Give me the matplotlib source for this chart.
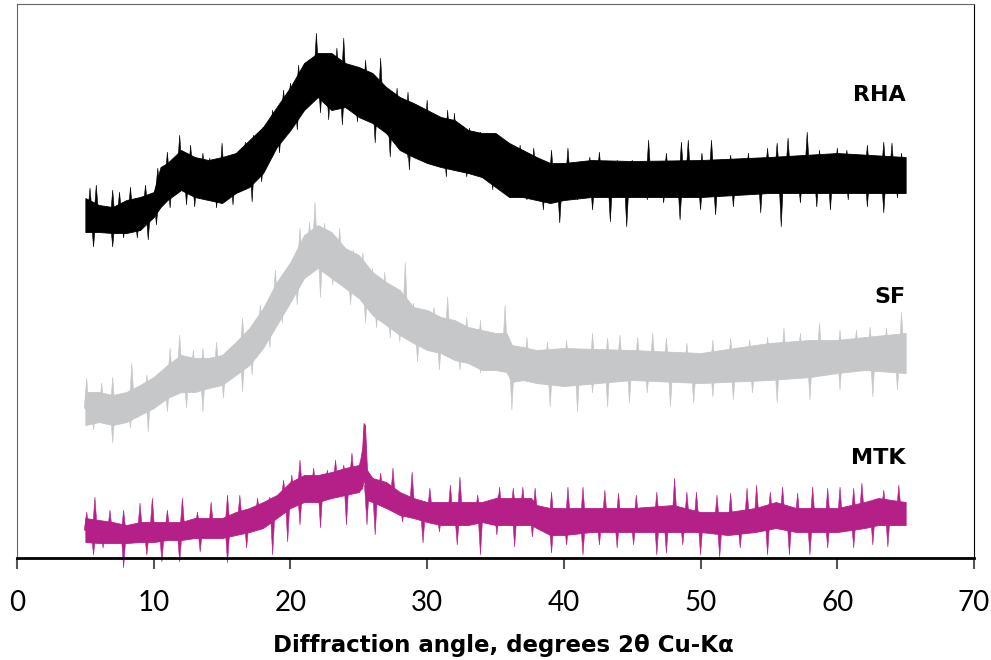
import numpy as np
import matplotlib.pyplot as plt

# envelope of each pattern (2theta, upper, lower), intensity in arbitrary offset units
rha_x = [5, 6, 7, 8, 9, 10, 10.5, 11, 12, 13, 14, 15, 16, 17, 18, 19, 20, 21, 22, 23, 24, 25, 26, 27,
         28, 29, 30, 31, 32, 33, 34, 35, 36, 37, 38, 39, 40, 42, 45, 50, 55, 60, 65]
rha_hi = [360, 353, 351, 358, 361, 366, 391, 395, 408, 401, 398, 401, 405, 418, 431, 451, 471, 495, 505, 505,
          495, 491, 485, 471, 461, 455, 448, 441, 438, 428, 425, 425, 415, 408, 401, 395, 395, 398, 397, 398,
          401, 405, 401]
rha_lo = [326, 326, 325, 325, 328, 341, 351, 358, 368, 361, 358, 355, 365, 371, 385, 411, 428, 448, 461, 448,
          451, 441, 435, 425, 408, 401, 395, 391, 388, 385, 381, 371, 361, 361, 358, 355, 358, 361, 361, 361,
          365, 365, 365]

sf_x = [5, 6, 7, 8, 9, 10, 11, 12, 13, 14, 15, 16, 17, 18, 19, 20, 21, 22, 23, 24, 25, 26, 27, 28, 29, 30,
        31, 32, 33, 34, 35, 35.8, 36.2, 37, 38, 40, 45, 50, 55, 58, 60, 62, 65]
sf_hi = [166, 166, 163, 166, 173, 181, 193, 203, 200, 200, 203, 216, 230, 250, 276, 296, 323, 333, 326, 310,
         303, 286, 276, 268, 251, 248, 241, 238, 231, 228, 225, 225, 213, 211, 208, 210, 208, 205, 215, 218,
         218, 221, 225]
sf_lo = [133, 136, 133, 136, 143, 150, 160, 166, 166, 170, 173, 183, 193, 210, 233, 256, 280, 290, 280, 270,
         260, 243, 233, 223, 215, 208, 205, 198, 195, 188, 188, 186, 176, 178, 175, 172, 178, 175, 178, 181,
         185, 188, 185]

mtk_x = [5, 6, 7, 8, 9, 10, 11, 12, 13, 14, 15, 16, 17, 18, 19, 20, 21, 22, 23, 24, 25, 25.1, 25.25, 25.35,
         25.45, 25.6, 26, 27, 28, 29, 30, 31, 33, 34, 35, 37, 37.6, 38, 39, 40, 42, 45, 48, 50, 52, 54, 55.5,
         57, 60, 62, 63, 65]
mtk_hi = [40, 38, 36, 33, 36, 36, 36, 36, 40, 40, 40, 46, 50, 56, 63, 76, 83, 83, 86, 90, 93, 98, 110, 135,
          133, 88, 80, 76, 66, 60, 56, 56, 56, 56, 60, 60, 60, 53, 50, 50, 50, 50, 53, 46, 46, 50, 56,
          50, 50, 56, 60, 56]
mtk_lo = [16, 15, 15, 15, 16, 16, 18, 18, 20, 20, 20, 23, 26, 30, 40, 50, 56, 56, 60, 63, 66, 68, 70, 78,
          73, 58, 56, 50, 43, 40, 36, 33, 33, 36, 33, 33, 33, 30, 23, 23, 26, 26, 26, 26, 23, 26, 30,
          26, 26, 30, 33, 33]

# noise spikes: (2theta, tip intensity)
rha_spikes = [(5.34, 370), (5.8, 373), (7.0, 368), (7.5, 366), (8.3, 371), (9.4, 373), (10.3, 390),
              (11.0, 406), (11.9, 423), (12.7, 413), (13.6, 405), (14.1, 400), (15.0, 415), (16.1, 403),
              (16.7, 416), (17.3, 423), (18.0, 431), (18.7, 448), (19.5, 468), (20.0, 475), (20.6, 493),
              (21.4, 498), (21.9, 525), (22.4, 501), (23.4, 510), (23.9, 520), (24.4, 493), (25.5, 498),
              (26.6, 500), (27.8, 470), (28.6, 466), (30.0, 458), (31.5, 448), (32.0, 445), (33.1, 430),
              (33.9, 426), (34.8, 423), (35.8, 416), (36.8, 413), (37.8, 410), (39.1, 408), (40.3, 410),
              (41.9, 401), (42.6, 406), (43.9, 398), (45.0, 398), (46.2, 418), (47.5, 405), (48.6, 416),
              (49.1, 418), (50.1, 405), (50.8, 418), (52.2, 403), (53.5, 405), (54.9, 410), (55.6, 415),
              (56.4, 420), (57.8, 426), (58.7, 408), (60.0, 410), (60.7, 408), (62.2, 413), (63.4, 416),
              (64.0, 415), (64.7, 405),
              (5.6, 311), (7.0, 311), (7.8, 320), (8.8, 320), (9.6, 318), (10.2, 333), (11.2, 350),
              (12.4, 353), (13.0, 351), (14.6, 350), (15.8, 353), (17.2, 356), (17.9, 376), (19.2, 405),
              (20.5, 428), (22.2, 445), (22.8, 438), (23.8, 433), (24.9, 436), (26.2, 415), (27.3, 401),
              (28.6, 400), (28.7, 388), (31.4, 381), (32.9, 381), (34.8, 368), (36.1, 361), (37.3, 358),
              (38.5, 348), (39.7, 335), (41.0, 358), (42.1, 348), (43.4, 336), (44.6, 331), (46.1, 358),
              (47.3, 355), (48.5, 338), (50.0, 348), (51.1, 343), (52.4, 351), (54.4, 345), (55.9, 331),
              (57.3, 355), (58.5, 351), (59.5, 348), (60.8, 358), (62.2, 351), (63.4, 345), (64.4, 360)]
sf_spikes = [(5.1, 180), (6.2, 175), (7.0, 181), (8.4, 195), (9.5, 183), (10.2, 181), (11.2, 210),
             (11.9, 223), (12.9, 208), (13.6, 210), (14.6, 216), (15.4, 205), (16.5, 240), (17.8, 253),
             (18.9, 288), (19.7, 280), (20.7, 330), (21.4, 336), (21.8, 356), (22.5, 335), (23.6, 330),
             (24.6, 308), (25.3, 305), (26.0, 290), (26.9, 286), (28.4, 296), (29.0, 255), (30.5, 251),
             (31.5, 261), (32.9, 241), (33.9, 238), (35.7, 253), (37.3, 221), (38.8, 216), (40.2, 218),
             (42.1, 225), (43.2, 220), (44.1, 223), (45.4, 221), (46.5, 225), (47.5, 220), (49.0, 215),
             (50.9, 218), (52.2, 220), (53.6, 218), (54.9, 221), (56.1, 230), (57.3, 225), (58.7, 235),
             (60.2, 228), (61.4, 228), (62.4, 231), (63.6, 230), (64.7, 246),
             (5.6, 128), (7.0, 115), (8.3, 130), (9.6, 126), (11.0, 146), (12.4, 150), (13.6, 146),
             (15.1, 160), (16.5, 166), (17.2, 183), (18.5, 210), (19.4, 235), (20.5, 253), (22.2, 260),
             (23.1, 273), (24.4, 253), (25.5, 235), (26.3, 230), (27.3, 220), (28.0, 216), (29.3, 196),
             (30.9, 188), (32.4, 188), (33.9, 185), (36.2, 148), (39.0, 151), (41.0, 146), (42.1, 165),
             (43.2, 151), (44.8, 155), (46.1, 165), (47.8, 151), (49.5, 155), (50.9, 161), (52.4, 158),
             (53.8, 165), (55.6, 155), (58.0, 158), (60.2, 168), (62.6, 161), (64.4, 168)]
mtk_spikes = [(5.1, 46), (5.7, 61), (6.8, 48), (7.8, 48), (9.0, 55), (9.9, 60), (11.0, 48), (12.1, 60),
              (13.2, 46), (14.2, 56), (15.4, 63), (16.3, 63), (17.6, 60), (18.5, 61), (19.5, 78), (20.1, 83),
              (20.7, 98), (21.7, 90), (22.7, 88), (23.3, 98), (23.9, 93), (24.5, 105), (26.6, 85), (27.5, 90),
              (28.9, 86), (30.2, 70), (31.7, 73), (32.4, 81), (33.7, 63), (35.2, 63), (35.3, 71), (36.3, 70),
              (37.0, 71), (37.9, 70), (39.1, 66), (40.3, 71), (41.4, 71), (43.0, 68), (44.0, 65), (45.3, 63),
              (46.8, 66), (48.1, 80), (49.0, 66), (49.7, 66), (51.2, 63), (52.2, 65), (53.4, 70), (54.1, 73),
              (55.1, 66), (56.0, 71), (57.1, 65), (58.2, 71), (59.3, 70), (60.2, 71), (61.2, 70), (61.8, 75),
              (63.4, 68), (64.5, 73),
              (5.6, 3), (6.3, 10), (7.8, -10), (9.5, 3), (10.6, -4), (11.9, -4), (13.4, 6), (15.4, -5),
              (16.8, 10), (18.7, 3), (19.8, 16), (20.7, 33), (22.2, 30), (24.1, 33), (25.6, 33), (26.2, 23),
              (28.2, 36), (29.7, 15), (30.9, 26), (32.2, 13), (33.9, 3), (35.1, 23), (36.4, 11), (37.7, 21),
              (39.1, 5), (40.2, 13), (41.4, 3), (42.6, 13), (43.9, 10), (45.1, 13), (46.8, 3), (47.5, 5),
              (48.7, 13), (50.0, 3), (51.4, 1), (52.9, 10), (54.9, 3), (56.5, 3), (58.0, 3), (59.3, 10),
              (61.2, 10), (62.6, 13), (63.7, 11)]

series = [
    ('RHA', rha_x, rha_hi, rha_lo, rha_spikes, '#000000'),
    ('SF', sf_x, sf_hi, sf_lo, sf_spikes, '#c6c7c9'),
    ('MTK', mtk_x, mtk_hi, mtk_lo, mtk_spikes, '#b52088'),
]
label_y = {'RHA': 463, 'SF': 261, 'MTK': 100}

fig = plt.figure(figsize=(9.91, 6.6), dpi=100)
ax = fig.add_axes([0.01715, 0.1545, 0.9657, 0.8394])

for name, x, hi, lo, spikes, col in series:
    x = np.array(x)
    hi = np.array(hi)
    lo = np.array(lo)
    ax.fill_between(x, lo, hi, color=col, lw=0.6, edgecolor=col)
    w = 0.18
    for sx, sy in spikes:
        base = (np.interp(sx, x, hi) + np.interp(sx, x, lo)) / 2
        ax.fill([sx - w, sx, sx + w], [base, sy, base], color=col, lw=0.4, clip_on=False)
    ax.text(65, label_y[name], name, ha='right', va='center', fontsize=16,
            fontweight='bold', family='DejaVu Sans')

ax.set_xlim(0, 70)
ax.set_ylim(0, 554)
ax.set_yticks([])
ax.set_xticks(range(0, 71, 10))
ax.tick_params(axis='x', direction='out', length=8, width=1.5, color='#555555',
               labelsize=20, pad=15)
for lab in ax.get_xticklabels():
    lab.set_family('Lato')
ax.spines['left'].set_color('#666666')
ax.spines['top'].set_color('#666666')
ax.spines['right'].set_color('#000000')
ax.spines['bottom'].set_linewidth(2)
fig.text(0.5076, 0.0227, 'Diffraction angle, degrees 2\u03b8 Cu-K\u03b1', fontsize=16.5,
         fontweight='bold', family='DejaVu Sans', ha='center', va='center')

fig.savefig('out.png', dpi=100)
